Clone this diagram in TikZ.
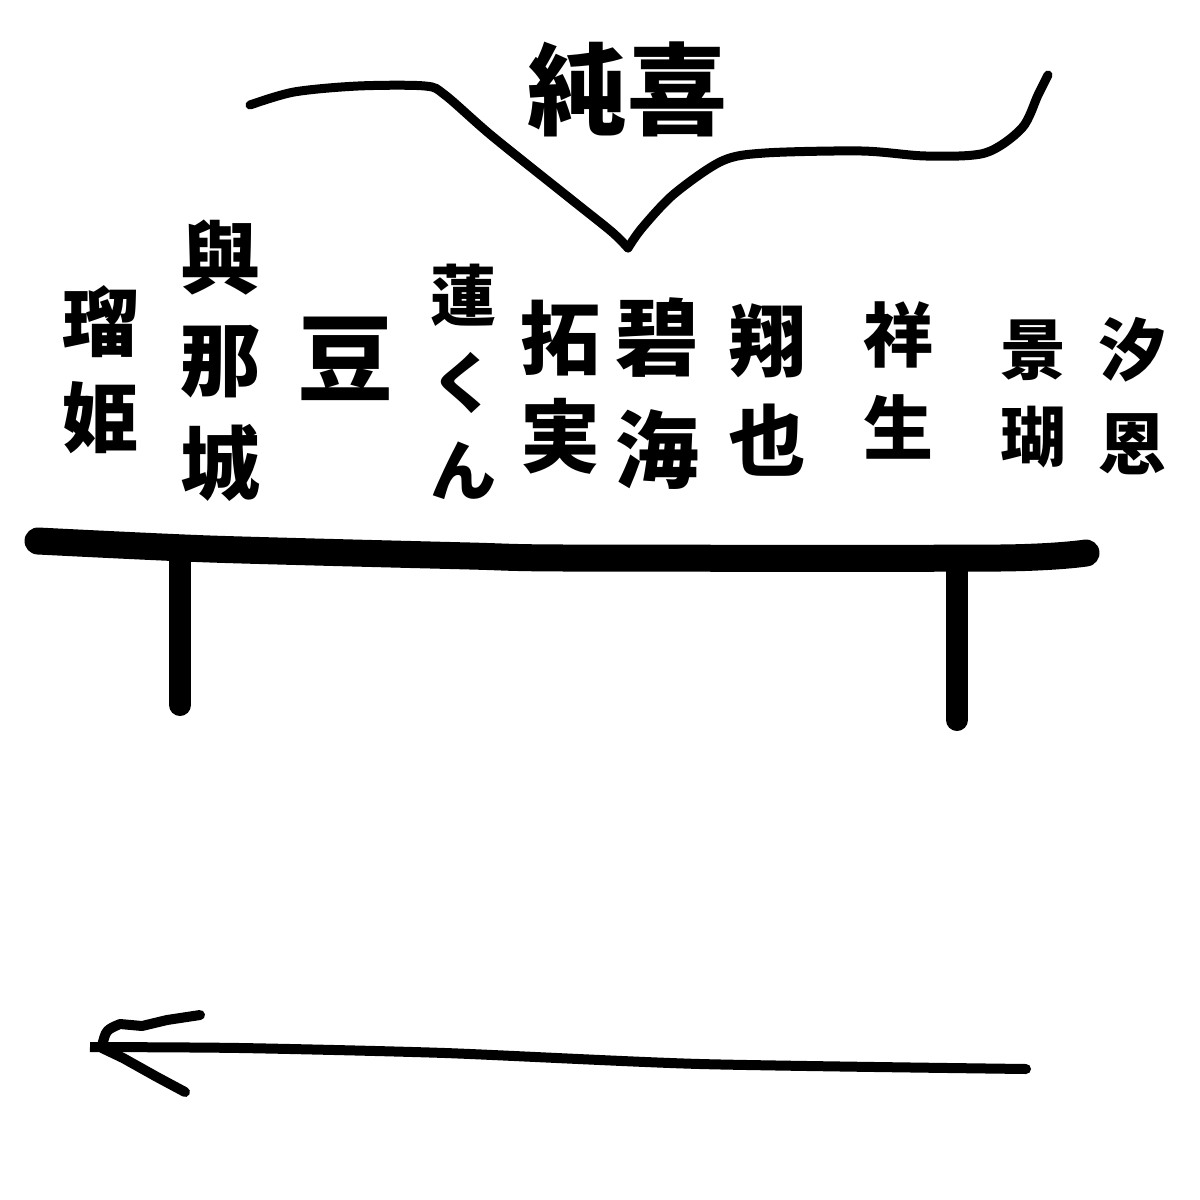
\documentclass[tikz,border=0pt]{standalone}
\usepackage{fontspec}
\newfontfamily\cjk{Noto Sans CJK JP}
\tikzset{
  ch/.style={inner sep=0pt, font={\cjk\bfseries\fontsize{#1}{#1}\selectfont}},
  pen/.style={line width=9pt, line cap=round, line join=round},
  bar/.style={line width=27pt, line cap=round, line join=round},
  leg/.style={line width=22pt, line cap=round},
  arr/.style={line width=10pt, line cap=round, line join=round}
}
\begin{document}
\begin{tikzpicture}[x=1pt,y=-1pt]
\useasboundingbox[fill=white] (0,0) rectangle (1200,1200);
% title
\node[ch=100] (title) at (627,89) {純喜};
% curve
\draw[pen] plot[smooth, tension=0.5] coordinates {(250,105) (294,92) (358,86) (425,86) (445,95) (492,136) (572,200) (612,232) (628,248)};
\draw[pen] plot[smooth, tension=0.5] coordinates {(628,248) (642,228) (674,194) (722,161) (765,153) (862,151) (926,156) (985,153) (1022,128) (1038,95) (1048,75)};
% names
\node[ch=76] (ru1) at (100,322) {瑠};
\node[ch=76] (ru2) at (100,418) {姫};
\node[ch=80] (yo1) at (220,258) {與};
\node[ch=80] (yo2) at (220,362) {那};
\node[ch=80] (yo3) at (220,463) {城};
\node[ch=96] (mame) at (345,359) {豆};
\node[ch=66] (re1) at (463,295) {蓮};
\node[ch=66] (re2) at (463,383) {く};
\node[ch=66] (re3) at (463,471) {ん};
\node[ch=80] (ta1) at (560,338) {拓};
\node[ch=80] (ta2) at (560,436) {実};
\node[ch=84] (ao1) at (657,338) {碧};
\node[ch=84] (ao2) at (657,450) {海};
\node[ch=78] (sh1) at (767,341) {翔};
\node[ch=78] (sh2) at (767,440) {也};
\node[ch=70] (sy1) at (898,335) {祥};
\node[ch=70] (sy2) at (898,427) {生};
\node[ch=66] (ke1) at (1033,350) {景};
\node[ch=66] (ke2) at (1033,437) {瑚};
\node[ch=68] (sk1) at (1132,350) {汐};
\node[ch=68] (sk2) at (1132,444) {恩};
% table
\coordinate (bl) at (38,541);
\coordinate (br) at (1086,553);
\coordinate (l1) at (180,549);
\coordinate (l2) at (180,705);
\coordinate (r1) at (957,558);
\coordinate (r2) at (957,720);
\draw[leg] (l1) -- (l2);
\draw[leg] (r1) -- (r2);
\draw[bar] plot[smooth, tension=0.4] coordinates {(bl) (210,549) (470,556) (565,558) (1000,558) (br)};
% arrow
\coordinate (as) at (1026,1069);
\coordinate (at) at (90,1047);
\coordinate (hu) at (200,1015);
\coordinate (hl) at (185,1092);
\draw[arr, line cap=butt] plot[smooth, tension=0.4] coordinates {(as) (700,1064) (445,1053) (240,1048) (at)};
\draw[arr] (as) -- (1025,1069);
\draw[arr] (102,1046) .. controls (106,1030) .. (120,1024) -- (142,1026) -- (167,1020) -- (hu);
\draw[arr] (102,1048) -- (123,1058) -- (157,1077) -- (hl);
\end{tikzpicture}
\end{document}
